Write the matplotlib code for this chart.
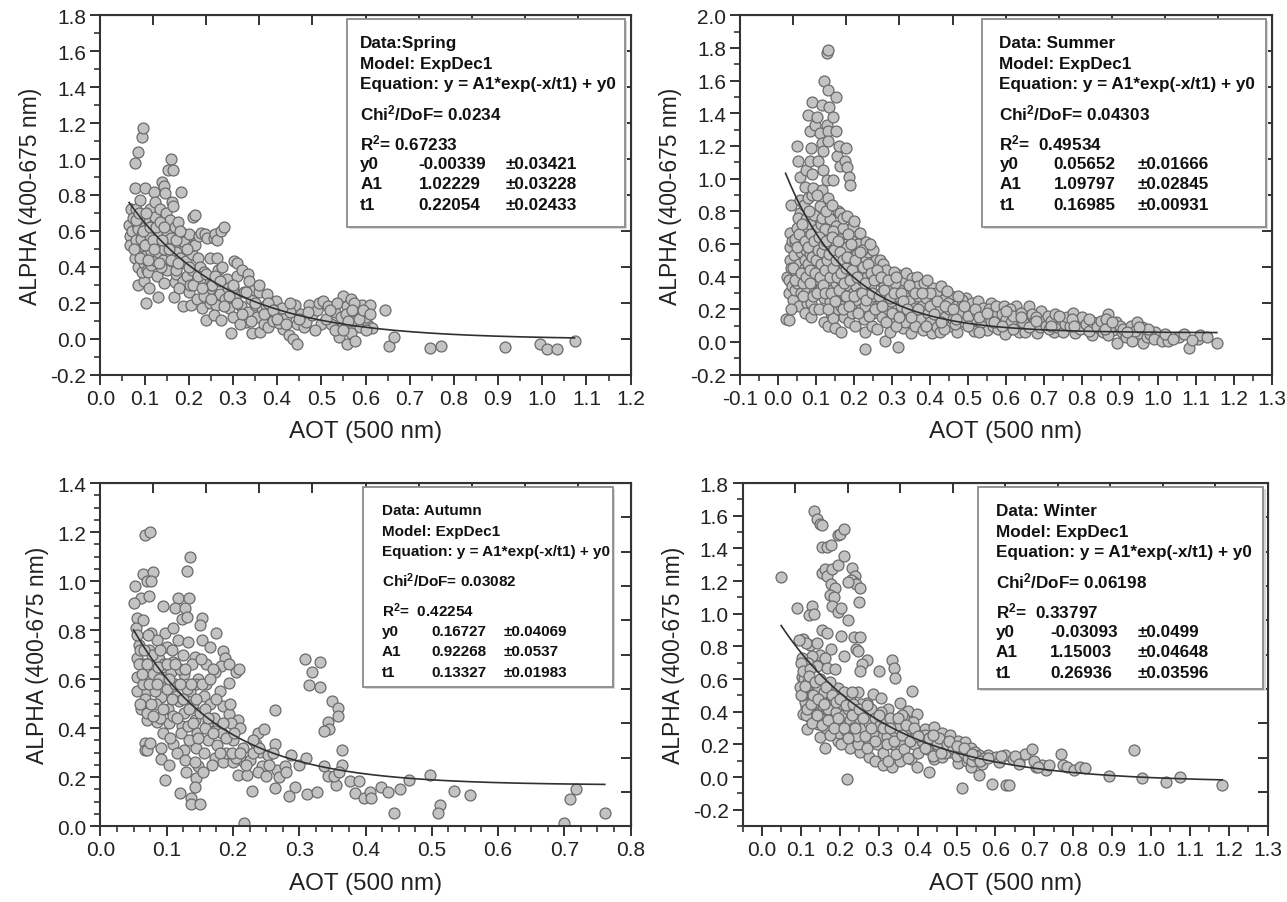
import numpy as np
import matplotlib
matplotlib.use('Agg')
import matplotlib.pyplot as plt
from matplotlib.patches import Rectangle

plt.rcParams['font.family'] = ['Liberation Sans', 'DejaVu Sans']
plt.rcParams['axes.unicode_minus'] = False
plt.rcParams['mathtext.default'] = 'regular'

# ---- data (AOT, ALPHA) ----
spring_pts = [
    (0.065,0.63),(0.068,0.57),(0.07,0.72),(0.072,0.60),(0.074,0.67),(0.066,0.52),
    (0.079,0.84),(0.079,0.98),(0.084,1.04),(0.08,0.72),(0.082,0.64),(0.083,0.52),(0.084,0.61),
    (0.078,0.45),(0.085,0.40),(0.08,0.55),(0.086,0.30),
    (0.094,1.12),(0.097,1.17),(0.09,0.77),(0.094,0.58),(0.094,0.48),(0.093,0.556),(0.098,0.51),
    (0.098,0.32),(0.095,0.37),(0.091,0.66),(0.099,0.42),(0.1,0.62),
    (0.102,0.84),(0.102,0.46),(0.104,0.2),(0.106,0.44),(0.106,0.38),(0.107,0.37),(0.108,0.53),
    (0.11,0.28),(0.11,0.65),(0.113,0.72),(0.112,0.57),(0.114,0.41),(0.115,0.49),
    (0.121,0.815),(0.121,0.64),(0.123,0.76),(0.125,0.43),(0.13,0.23),(0.13,0.48),(0.127,0.55),
    (0.128,0.35),(0.124,0.68),(0.13,0.6),
    (0.136,0.72),(0.136,0.54),(0.14,0.87),(0.143,0.85),(0.145,0.31),(0.147,0.81),(0.147,0.63),
    (0.15,0.46),(0.15,0.38),(0.151,0.58),(0.153,0.94),(0.142,0.44),(0.138,0.4),(0.148,0.7),(0.144,0.5),
    (0.159,1.0),(0.164,0.94),(0.161,0.76),(0.165,0.74),(0.166,0.51),(0.163,0.43),(0.168,0.315),
    (0.166,0.23),(0.158,0.66),(0.16,0.56),(0.17,0.36),(0.168,0.62),
    (0.172,0.48),(0.172,0.38),(0.176,0.65),(0.183,0.815),(0.185,0.59),(0.187,0.32),(0.187,0.18),
    (0.189,0.54),(0.178,0.28),(0.18,0.45),(0.19,0.42),
    (0.193,0.43),(0.195,0.35),(0.2,0.58),(0.206,0.19),(0.207,0.47),(0.209,0.68),(0.21,0.52),
    (0.208,0.38),(0.2,0.26),(0.203,0.3),
    (0.214,0.69),(0.215,0.52),(0.223,0.57),(0.228,0.59),(0.22,0.45),(0.225,0.33),(0.218,0.22),
    (0.23,0.17),(0.226,0.4),
    (0.234,0.37),(0.237,0.58),(0.241,0.56),(0.249,0.45),(0.24,0.105),(0.245,0.27),(0.235,0.24),
    (0.25,0.3),(0.248,0.2),
    (0.253,0.30),(0.256,0.56),(0.26,0.58),(0.264,0.45),(0.265,0.55),(0.262,0.185),(0.267,0.38),
    (0.258,0.13),(0.27,0.25),(0.272,0.105),
    (0.272,0.60),(0.28,0.62),(0.286,0.33),(0.29,0.17),(0.275,0.4),(0.282,0.22),(0.288,0.28),
    (0.296,0.03),(0.299,0.28),(0.302,0.43),(0.309,0.42),(0.3,0.12),(0.305,0.22),(0.31,0.35),
    (0.318,0.18),(0.32,0.38),(0.33,0.095),(0.333,0.36),(0.337,0.32),(0.343,0.03),(0.325,0.26),
    (0.315,0.08),(0.335,0.15),(0.34,0.22),
    (0.347,0.27),(0.351,0.19),(0.36,0.26),(0.362,0.04),(0.355,0.12),(0.365,0.17),(0.37,0.08),(0.358,0.3),
    (0.375,0.185),(0.38,0.063),(0.398,0.21),(0.385,0.13),(0.39,0.1),(0.395,0.16),(0.378,0.25),
    (0.413,0.053),(0.427,0.02),(0.437,0.0),(0.446,-0.03),(0.44,0.185),(0.42,0.12),(0.43,0.15),
    (0.41,0.17),(0.445,0.08),(0.405,0.09),
    (0.46,0.063),(0.465,0.095),(0.473,0.19),(0.48,0.13),(0.49,0.16),(0.5,0.08),(0.495,0.2),
    (0.455,0.14),(0.485,0.05),
    (0.504,0.21),(0.521,0.084),(0.54,0.01),(0.549,0.074),(0.549,0.235),(0.53,0.15),(0.545,0.12),
    (0.515,0.18),(0.535,0.2),
    (0.559,-0.03),(0.558,0.18),(0.567,0.22),(0.568,0.03),(0.577,-0.01),(0.58,0.15),(0.587,0.063),
    (0.591,0.19),(0.606,0.074),(0.61,0.185),(0.615,0.057),(0.57,0.1),(0.59,0.13),(0.555,0.14),
    (0.6,0.12),(0.575,0.2),
    (0.643,0.16),(0.653,-0.04),(0.664,0.01),(0.745,-0.05),(0.77,-0.038),(0.915,-0.046),
    (0.995,-0.03),(1.01,-0.057),(1.033,-0.057),(1.073,-0.015),
    (0.075,0.5),(0.08,0.66),(0.088,0.7),(0.09,0.45),(0.096,0.6),(0.1,0.52),(0.104,0.7),
    (0.108,0.44),(0.112,0.62),(0.118,0.55),(0.122,0.5),(0.126,0.62),(0.132,0.42),(0.134,0.65),
    (0.14,0.55),(0.145,0.62),(0.155,0.5),(0.16,0.44),(0.17,0.55),(0.175,0.42),(0.18,0.6),
    (0.195,0.5),(0.2,0.4),(0.21,0.3),(0.22,0.35),(0.23,0.28),(0.24,0.36),(0.25,0.22),
    (0.26,0.35),(0.27,0.32),(0.28,0.18),(0.29,0.24),(0.3,0.3),(0.31,0.2),(0.32,0.14),
    (0.33,0.26),(0.34,0.1),(0.35,0.2),(0.37,0.14),(0.38,0.2),(0.39,0.16),(0.4,0.11),
    (0.42,0.08),(0.43,0.2),(0.45,0.11),(0.47,0.15),(0.51,0.11),(0.52,0.16),(0.53,0.05),
    (0.56,0.1),(0.57,0.16),(0.585,0.11),(0.595,0.16),(0.6,0.05),(0.55,0.05),(0.61,0.14),
]

summer_pts = [
    (0.02,0.14),(0.025,0.40),(0.028,0.38),(0.03,0.30),(0.032,0.67),(0.032,0.58),(0.032,0.50),
    (0.033,0.45),(0.035,0.84),(0.036,0.62),(0.028,0.133),(0.038,0.34),(0.04,0.26),
    (0.044,0.32),(0.044,0.61),(0.045,0.63),(0.049,1.2),(0.05,0.70),(0.054,1.11),(0.058,1.01),
    (0.058,0.87),(0.058,0.79),(0.042,0.53),(0.048,0.43),(0.05,0.36),(0.055,0.48),(0.06,0.55),
    (0.055,0.22),(0.06,0.3),(0.052,0.76),
    (0.067,0.60),(0.071,0.95),(0.075,1.05),(0.075,0.75),(0.077,0.32),(0.08,1.39),(0.065,0.68),
    (0.07,0.45),(0.072,0.5),(0.078,0.65),(0.08,0.4),(0.068,0.84),(0.074,0.56),(0.079,0.88),
    (0.076,0.24),(0.07,0.18),
    (0.084,1.29),(0.084,1.11),(0.084,0.54),(0.086,1.19),(0.088,0.24),(0.089,1.47),(0.089,1.03),
    (0.089,0.90),(0.093,0.94),(0.097,1.33),(0.099,0.37),(0.085,0.72),(0.09,0.62),(0.092,0.46),
    (0.095,0.78),(0.098,0.55),(0.082,0.8),(0.094,0.3),(0.1,0.68),(0.087,0.15),(0.096,0.2),
    (0.102,1.38),(0.102,0.69),(0.102,0.46),(0.106,1.11),(0.11,1.28),(0.11,0.83),(0.11,0.58),
    (0.115,1.45),(0.115,1.22),(0.115,0.93),(0.119,1.17),(0.119,1.05),(0.121,0.27),(0.105,0.38),
    (0.108,0.5),(0.112,0.72),(0.118,0.64),(0.12,0.42),(0.104,0.9),(0.113,0.33),(0.117,0.76),
    (0.12,0.12),(0.108,0.2),
    (0.122,1.60),(0.128,1.77),(0.128,1.33),(0.128,0.99),(0.128,0.50),(0.131,1.54),(0.132,1.79),
    (0.132,1.29),(0.132,1.23),(0.132,0.88),(0.135,1.44),(0.137,0.75),(0.137,0.63),(0.125,0.56),
    (0.13,0.4),(0.134,0.34),(0.138,0.47),(0.14,0.58),(0.126,0.8),(0.136,0.25),(0.124,0.69),
    (0.139,0.18),(0.133,0.1),
    (0.143,0.32),(0.144,0.145),(0.146,1.38),(0.146,0.99),(0.15,0.087),(0.153,1.50),(0.154,1.29),
    (0.154,0.71),(0.156,1.14),(0.145,0.52),(0.148,0.43),(0.15,0.62),(0.152,0.36),(0.155,0.26),
    (0.158,0.8),(0.16,0.5),(0.142,0.84),(0.157,0.2),(0.145,0.68),
    (0.161,1.20),(0.163,1.08),(0.163,0.79),(0.163,0.63),(0.163,0.48),(0.167,0.064),(0.176,1.11),
    (0.176,0.28),(0.179,1.19),(0.165,0.38),(0.168,0.55),(0.17,0.3),(0.172,0.7),(0.175,0.45),
    (0.166,0.22),(0.174,0.15),(0.178,0.6),(0.17,0.76),
    (0.181,0.77),(0.181,0.58),(0.182,1.07),(0.188,1.01),(0.189,0.96),(0.189,0.46),(0.198,0.71),
    (0.185,0.35),(0.19,0.25),(0.192,0.52),(0.195,0.62),(0.2,0.4),(0.186,0.12),(0.196,0.18),
    (0.184,0.66),(0.198,0.3),
    (0.207,0.54),(0.209,0.26),(0.216,0.67),(0.216,0.44),(0.205,0.34),(0.21,0.6),(0.212,0.48),
    (0.218,0.2),(0.22,0.38),(0.203,0.1),(0.215,0.3),(0.2,0.74),
    (0.228,0.064),(0.228,-0.046),(0.231,0.32),(0.233,0.61),(0.233,0.50),(0.225,0.44),(0.23,0.22),
    (0.235,0.4),(0.238,0.55),(0.24,0.28),(0.222,0.56),(0.226,0.14),
    (0.246,0.46),(0.251,0.56),(0.253,0.28),(0.245,0.35),(0.25,0.18),(0.255,0.42),(0.258,0.5),
    (0.26,0.22),(0.248,0.1),(0.242,0.6),
    (0.268,0.50),(0.277,0.48),(0.265,0.38),(0.27,0.3),(0.275,0.15),(0.28,0.4),(0.262,0.08),
    (0.272,0.24),(0.278,0.34),
    (0.283,0.007),(0.294,0.064),(0.297,0.39),(0.285,0.44),(0.29,0.2),(0.288,0.3),(0.295,0.14),
    (0.3,0.35),(0.298,0.25),
    (0.317,-0.028),(0.319,0.41),(0.328,0.087),(0.305,0.43),(0.31,0.28),(0.315,0.18),(0.32,0.33),
    (0.325,0.22),(0.33,0.38),(0.335,0.12),(0.34,0.3),(0.312,0.1),(0.338,0.42),(0.308,0.36),
    (0.35,0.053),(0.352,0.39),(0.345,0.25),(0.348,0.17),(0.355,0.32),(0.36,0.21),(0.365,0.4),
    (0.37,0.28),(0.375,0.14),(0.362,0.1),(0.368,0.34),(0.378,0.22),
    (0.383,0.076),(0.385,0.36),(0.406,0.053),(0.407,0.33),(0.39,0.27),(0.395,0.18),(0.4,0.12),
    (0.41,0.24),(0.415,0.3),(0.418,0.09),(0.392,0.38),(0.4,0.3),
    (0.428,0.064),(0.429,0.34),(0.456,0.28),(0.456,0.1),(0.425,0.2),(0.435,0.26),(0.44,0.15),
    (0.445,0.31),(0.45,0.2),(0.438,0.08),(0.448,0.24),(0.46,0.14),
    (0.472,0.064),(0.495,0.27),(0.506,0.1),(0.517,0.133),(0.47,0.22),(0.48,0.18),(0.485,0.26),
    (0.49,0.12),(0.5,0.2),(0.51,0.24),(0.515,0.07),(0.475,0.28),(0.5,0.16),(0.465,0.11),
    (0.528,0.25),(0.55,0.076),(0.561,0.24),(0.525,0.18),(0.535,0.12),(0.54,0.21),(0.545,0.16),
    (0.555,0.2),(0.565,0.1),(0.57,0.17),(0.575,0.22),(0.53,0.06),(0.56,0.13),(0.58,0.08),
    (0.583,0.122),(0.594,0.22),(0.606,0.076),(0.627,0.22),(0.628,0.11),(0.59,0.17),(0.6,0.14),
    (0.61,0.2),(0.615,0.12),(0.62,0.16),(0.635,0.06),(0.64,0.18),(0.598,0.05),
    (0.65,0.064),(0.66,0.22),(0.683,0.053),(0.693,0.19),(0.655,0.14),(0.665,0.1),(0.67,0.17),
    (0.675,0.12),(0.68,0.15),(0.69,0.09),(0.7,0.13),(0.645,0.12),
    (0.706,0.1),(0.728,0.064),(0.739,0.122),(0.71,0.16),(0.715,0.08),(0.72,0.13),(0.73,0.17),
    (0.735,0.09),(0.745,0.14),(0.75,0.06),(0.755,0.11),(0.76,0.15),
    (0.776,0.18),(0.783,0.053),(0.806,0.087),(0.828,0.041),(0.77,0.1),(0.79,0.13),(0.795,0.08),
    (0.8,0.15),(0.81,0.11),(0.82,0.07),(0.83,0.12),(0.84,0.09),(0.775,0.14),
    (0.861,0.11),(0.87,0.17),(0.883,0.076),(0.894,-0.005),(0.906,0.064),(0.917,0.03),(0.85,0.13),
    (0.855,0.06),(0.865,0.14),(0.875,0.09),(0.89,0.12),(0.9,0.1),(0.91,0.08),(0.87,0.04),
    (0.933,0.007),(0.95,0.053),(0.961,-0.005),(0.972,0.03),(0.994,0.064),(0.93,0.1),(0.94,0.07),
    (0.96,0.09),(0.98,0.05),(0.99,0.02),(0.945,0.12),(0.975,0.08),
    (1.011,0.007),(1.028,0.007),(1.056,0.03),(1.083,-0.039),(1.106,0.018),(1.111,0.041),
    (1.156,-0.005),(1.02,0.05),(1.04,0.02),(1.07,0.05),(1.09,0.01),(1.13,0.03),
    (0.035,0.2),(0.04,0.45),(0.045,0.38),(0.05,0.58),(0.055,0.66),(0.06,0.42),(0.062,0.72),
    (0.065,0.28),(0.066,0.36),(0.07,0.62),(0.073,0.4),(0.078,0.48),(0.08,0.58),(0.083,0.36),
    (0.085,0.44),(0.088,0.66),(0.09,0.52),(0.092,0.28),(0.095,0.62),(0.098,0.42),(0.1,0.5),
    (0.103,0.3),(0.105,0.56),(0.107,0.64),(0.11,0.4),(0.113,0.48),(0.116,0.55),(0.118,0.35),
    (0.12,0.6),(0.123,0.3),(0.125,0.44),(0.127,0.62),(0.13,0.5),(0.133,0.2),(0.135,0.54),
    (0.138,0.4),(0.14,0.3),(0.142,0.64),(0.145,0.45),(0.148,0.56),(0.15,0.25),(0.152,0.5),
    (0.155,0.4),(0.158,0.62),(0.16,0.32),(0.163,0.55),(0.166,0.42),(0.17,0.2),(0.172,0.5),
    (0.175,0.36),(0.178,0.28),(0.18,0.45),(0.183,0.52),(0.186,0.22),(0.19,0.38),(0.193,0.6),
    (0.196,0.44),(0.2,0.28),(0.204,0.5),(0.208,0.4),(0.212,0.18),(0.215,0.55),(0.22,0.3),
    (0.224,0.46),(0.228,0.36),(0.232,0.26),(0.236,0.48),(0.24,0.16),(0.244,0.42),(0.248,0.3),
    (0.252,0.38),(0.256,0.2),(0.26,0.44),(0.265,0.28),(0.27,0.4),(0.275,0.22),(0.28,0.32),
    (0.285,0.12),(0.29,0.38),(0.295,0.27),(0.3,0.18),(0.305,0.3),(0.31,0.4),(0.32,0.15),
    (0.325,0.3),(0.33,0.25),(0.34,0.2),(0.345,0.35),(0.35,0.15),(0.36,0.3),(0.37,0.2),
    (0.38,0.3),(0.39,0.1),(0.4,0.22),(0.41,0.17),(0.42,0.25),(0.43,0.12),(0.44,0.22),
    (0.46,0.2),(0.47,0.14),(0.49,0.22),(0.5,0.1),(0.52,0.2),(0.53,0.15),(0.55,0.18),
    (0.57,0.12),(0.59,0.1),(0.6,0.19),(0.62,0.08),(0.64,0.15),(0.66,0.09),(0.68,0.13),
    (0.72,0.1),(0.74,0.16),(0.78,0.1),(0.82,0.14),(0.86,0.08),(0.88,0.12),(0.92,0.06),(0.95,0.09),
]

autumn_pts = [
    (0.068,1.187),(0.075,1.2),(0.135,1.10),(0.13,1.04),
    (0.064,1.03),(0.08,1.035),(0.07,1.0),(0.076,1.0),(0.052,0.98),(0.061,0.93),(0.073,0.94),
    (0.05,0.91),(0.095,0.90),(0.117,0.93),(0.134,0.93),(0.113,0.89),(0.127,0.89),(0.123,0.845),
    (0.13,0.855),(0.153,0.85),(0.151,0.82),(0.174,0.79),
    (0.055,0.85),(0.064,0.84),(0.053,0.81),(0.076,0.79),(0.098,0.79),(0.11,0.81),(0.086,0.76),
    (0.117,0.76),(0.154,0.76),(0.058,0.74),(0.073,0.72),(0.101,0.73),(0.132,0.75),(0.166,0.73),
    (0.185,0.715),(0.188,0.685),(0.182,0.655),(0.194,0.66),(0.204,0.63),(0.209,0.64),(0.194,0.586),
    (0.055,0.685),(0.067,0.66),(0.089,0.68),(0.11,0.67),(0.142,0.69),(0.16,0.66),(0.173,0.63),
    (0.055,0.61),(0.073,0.60),(0.098,0.61),(0.126,0.62),(0.148,0.60),(0.055,0.55),(0.07,0.55),
    (0.092,0.525),(0.114,0.53),(0.135,0.55),(0.157,0.53),(0.185,0.49),(0.194,0.457),(0.207,0.434),
    (0.197,0.42),
    (0.061,0.48),(0.07,0.434),(0.086,0.426),(0.104,0.42),(0.123,0.41),(0.142,0.434),(0.163,0.426),
    (0.173,0.39),(0.067,0.34),(0.092,0.32),(0.11,0.335),(0.126,0.31),(0.145,0.32),(0.157,0.30),
    (0.173,0.28),(0.185,0.26),(0.092,0.274),(0.104,0.25),(0.129,0.22),(0.148,0.244),(0.098,0.19),
    (0.145,0.198),(0.142,0.16),(0.12,0.134),(0.137,0.114),(0.136,0.09),(0.151,0.09),(0.067,0.31),
    (0.2,0.26),(0.207,0.21),(0.216,0.26),(0.221,0.21),(0.228,0.145),(0.217,0.012),
    (0.238,0.38),(0.247,0.396),(0.235,0.335),(0.241,0.304),(0.253,0.29),(0.244,0.244),(0.238,0.22),
    (0.25,0.205),
    (0.263,0.475),(0.263,0.335),(0.266,0.228),(0.264,0.155),(0.278,0.244),(0.288,0.292),(0.294,0.16),
    (0.284,0.122),(0.3,0.25),(0.312,0.13),(0.31,0.28),(0.327,0.14),
    (0.308,0.68),(0.319,0.63),(0.331,0.67),(0.314,0.574),(0.331,0.568),
    (0.337,0.244),(0.343,0.205),(0.35,0.51),(0.358,0.484),(0.359,0.449),(0.343,0.426),(0.345,0.396),
    (0.337,0.388),(0.364,0.312),(0.364,0.25),(0.356,0.167),(0.353,0.205),(0.36,0.22),
    (0.376,0.183),(0.39,0.183),(0.384,0.134),(0.398,0.114),(0.407,0.14),(0.409,0.114),(0.424,0.16),
    (0.434,0.14),(0.443,0.053),(0.452,0.152),(0.465,0.19),(0.497,0.21),(0.513,0.088),(0.509,0.053),
    (0.534,0.145),(0.558,0.126),
    (0.7,0.012),(0.708,0.11),(0.718,0.15),(0.761,0.053),
    (0.06,0.72),(0.062,0.66),(0.065,0.58),(0.068,0.52),(0.07,0.46),(0.072,0.78),(0.078,0.7),
    (0.08,0.62),(0.082,0.55),(0.084,0.5),(0.088,0.6),(0.09,0.44),(0.094,0.38),(0.096,0.66),
    (0.1,0.56),(0.102,0.48),(0.105,0.36),(0.106,0.63),(0.108,0.72),(0.11,0.45),(0.112,0.58),
    (0.115,0.3),(0.118,0.51),(0.12,0.64),(0.122,0.38),(0.124,0.7),(0.126,0.46),(0.128,0.27),
    (0.13,0.56),(0.132,0.41),(0.134,0.35),(0.138,0.66),(0.14,0.5),(0.142,0.26),(0.144,0.58),
    (0.146,0.38),(0.15,0.46),(0.152,0.68),(0.155,0.22),(0.158,0.4),(0.16,0.58),(0.162,0.35),
    (0.165,0.5),(0.168,0.25),(0.17,0.64),(0.172,0.44),(0.176,0.33),(0.18,0.55),(0.183,0.38),
    (0.19,0.3),(0.195,0.5),(0.2,0.35),(0.205,0.28),(0.21,0.4),(0.215,0.32),(0.225,0.27),
    (0.23,0.3),(0.24,0.32),(0.255,0.25),(0.26,0.3),(0.27,0.2),(0.28,0.22),
    (0.055,0.78),(0.058,0.66),(0.06,0.5),(0.063,0.62),(0.066,0.72),(0.07,0.66),(0.074,0.58),
    (0.077,0.5),(0.08,0.45),(0.085,0.58),(0.087,0.65),(0.09,0.72),(0.095,0.48),(0.1,0.66),
    (0.103,0.6),(0.108,0.52),(0.112,0.66),(0.116,0.44),(0.12,0.58),(0.125,0.52),(0.128,0.64),
    (0.133,0.48),(0.136,0.58),(0.14,0.42),(0.145,0.52),(0.148,0.36),(0.153,0.58),(0.158,0.48),
    (0.162,0.44),(0.166,0.6),(0.17,0.38),(0.175,0.52),(0.18,0.3),(0.185,0.42),(0.19,0.36),
    (0.198,0.3),(0.202,0.38),(0.21,0.3),(0.22,0.25),(0.23,0.35),(0.07,0.31),(0.075,0.34),
]

winter_pts = [
    (0.049,1.225),
    (0.134,1.63),(0.14,1.58),(0.148,1.55),(0.153,1.54),(0.153,1.41),(0.167,1.41),(0.177,1.42),
    (0.194,1.48),(0.201,1.49),(0.211,1.52),
    (0.153,1.25),(0.161,1.275),(0.167,1.23),(0.179,1.275),(0.194,1.30),(0.211,1.355),(0.177,1.18),
    (0.188,1.16),(0.174,1.115),(0.185,1.10),(0.179,1.05),(0.194,1.01),(0.204,1.035),(0.22,0.96),
    (0.231,1.28),(0.239,1.23),(0.237,1.195),(0.228,1.207),(0.242,1.18),(0.253,1.16),(0.25,1.07),
    (0.22,1.195),
    (0.091,1.035),(0.129,1.045),(0.12,0.99),(0.134,1.0),(0.153,0.90),(0.167,0.88),(0.202,0.864),
    (0.237,0.86),(0.253,0.86),(0.242,0.784),(0.247,0.773),(0.211,0.74),
    (0.105,0.846),(0.124,0.807),(0.113,0.82),(0.14,0.82),(0.177,0.784),(0.15,0.75),(0.129,0.74),
    (0.161,0.727),
    (0.102,0.727),(0.118,0.70),(0.14,0.68),(0.167,0.67),(0.188,0.663),(0.269,0.715),(0.258,0.69),
    (0.253,0.647),(0.301,0.647),(0.333,0.715),(0.339,0.67),(0.341,0.608),(0.385,0.526),
    (0.102,0.613),(0.108,0.544),(0.118,0.498),(0.113,0.43),(0.124,0.366),(0.15,0.247),(0.161,0.373),
    (0.177,0.498),(0.194,0.544),(0.21,0.52),(0.226,0.475),(0.247,0.52),(0.269,0.453),(0.285,0.51),
    (0.306,0.487),(0.323,0.418),(0.355,0.453),(0.376,0.407),(0.398,0.384),(0.419,0.293),
    (0.441,0.304),(0.462,0.27),(0.484,0.258),(0.482,0.206),(0.505,0.224),(0.522,0.213),
    (0.538,0.178),(0.548,0.155),(0.559,0.137),(0.581,0.133),(0.602,0.121),(0.624,0.137),
    (0.645,0.11),(0.661,0.098),(0.677,0.144),(0.694,0.174),(0.704,0.064),(0.72,0.075),
    (0.731,0.041),(0.737,0.075),(0.769,0.139),(0.774,0.075),(0.785,0.064),(0.801,0.041),
    (0.817,0.064),(0.83,0.053),(0.892,0.007),(0.955,0.167),(0.976,-0.005),(1.038,-0.027),
    (1.075,0.0),(1.183,-0.046),
    (0.218,-0.009),(0.514,-0.069),(0.559,0.014),(0.591,-0.039),(0.626,-0.05),(0.634,-0.05),
    (0.161,0.178),(0.194,0.224),(0.226,0.178),(0.253,0.155),(0.274,0.121),(0.29,0.098),
    (0.312,0.075),(0.333,0.064),(0.355,0.098),(0.382,0.11),(0.398,0.064),(0.43,0.03),
    (0.441,0.11),(0.462,0.121),(0.505,0.087),(0.527,0.098),(0.538,0.064),
    (0.105,0.384),(0.116,0.293),(0.129,0.366),(0.145,0.327),(0.177,0.315),(0.199,0.27),
    (0.204,0.201),(0.231,0.247),(0.247,0.201),(0.274,0.213),(0.29,0.27),(0.306,0.247),
    (0.323,0.293),(0.344,0.327),(0.366,0.361),(0.387,0.338),(0.398,0.247),(0.419,0.224),
    (0.441,0.201),(0.462,0.178),(0.484,0.155),
    (0.108,0.6),(0.11,0.46),(0.115,0.55),(0.12,0.42),(0.125,0.5),(0.13,0.58),(0.135,0.4),
    (0.14,0.47),(0.145,0.55),(0.15,0.36),(0.155,0.44),(0.16,0.52),(0.165,0.3),(0.17,0.42),
    (0.175,0.58),(0.18,0.35),(0.185,0.47),(0.19,0.4),(0.2,0.33),(0.205,0.45),(0.21,0.38),
    (0.215,0.28),(0.22,0.42),(0.225,0.35),(0.23,0.52),(0.235,0.3),(0.24,0.4),(0.245,0.25),
    (0.25,0.36),(0.255,0.45),(0.26,0.3),(0.265,0.38),(0.27,0.18),(0.275,0.33),(0.28,0.42),
    (0.285,0.27),(0.29,0.36),(0.295,0.2),(0.3,0.31),(0.305,0.4),(0.31,0.15),(0.315,0.34),
    (0.32,0.25),(0.325,0.1),(0.33,0.36),(0.335,0.2),(0.34,0.28),(0.345,0.14),(0.35,0.3),
    (0.355,0.22),(0.36,0.38),(0.365,0.17),(0.37,0.26),(0.375,0.12),(0.38,0.3),(0.39,0.2),
    (0.395,0.27),(0.4,0.15),(0.41,0.22),(0.42,0.26),(0.425,0.17),(0.43,0.24),(0.44,0.13),
    (0.45,0.2),(0.455,0.24),(0.47,0.15),(0.475,0.2),(0.49,0.18),(0.5,0.13),(0.51,0.17),
    (0.52,0.15),(0.53,0.12),(0.54,0.1),(0.55,0.13),(0.565,0.08),(0.57,0.12),(0.61,0.09),
    (0.615,0.13),(0.65,0.13),(0.66,0.08),(0.7,0.1),(0.71,0.06),
    (0.095,0.84),(0.1,0.7),(0.098,0.55),(0.104,0.5),(0.106,0.65),(0.112,0.38),(0.118,0.58),
    (0.122,0.66),(0.128,0.33),(0.132,0.45),
    (0.1,0.5),(0.11,0.56),(0.115,0.42),(0.12,0.62),(0.125,0.45),(0.13,0.5),(0.135,0.58),
    (0.14,0.38),(0.145,0.48),(0.15,0.6),(0.155,0.32),(0.16,0.45),(0.165,0.55),(0.17,0.35),
    (0.175,0.26),(0.18,0.5),(0.185,0.3),(0.19,0.46),(0.195,0.36),(0.2,0.48),(0.21,0.3),
    (0.215,0.44),(0.22,0.24),(0.23,0.38),(0.235,0.45),(0.24,0.3),(0.25,0.42),(0.26,0.36),
    (0.265,0.25),(0.27,0.44),(0.28,0.3),(0.29,0.22),(0.3,0.38),(0.31,0.3),(0.32,0.2),
    (0.33,0.3),(0.34,0.22),(0.35,0.36),(0.36,0.26),(0.37,0.32),(0.38,0.22),(0.39,0.3),
    (0.4,0.25),(0.42,0.18),(0.44,0.26),(0.46,0.15),(0.48,0.22),(0.5,0.19),(0.52,0.18),
    (0.54,0.14),(0.56,0.1),(0.58,0.12),
]

# ExpDec1 fit results: (y0, A1, t1), errors, chi2/dof, r2
spring_fit = (-0.00339, 1.02229, 0.22054)
spring_err = (0.03421, 0.03228, 0.02433)
summer_fit = (0.05652, 1.09797, 0.16985)
summer_err = (0.01666, 0.02845, 0.00931)
autumn_fit = (0.16727, 0.92268, 0.13327)
autumn_err = (0.04069, 0.0537, 0.01983)
winter_fit = (-0.03093, 1.15003, 0.26936)
winter_err = (0.0499, 0.04648, 0.03596)
chi2 = [0.0234, 0.04303, 0.03082, 0.06198]
r2 = [0.67233, 0.49534, 0.42254, 0.33797]
titles = ['Data:Spring', 'Data: Summer', 'Data: Autumn', 'Data: Winter']

W, H, DPI = 12.87, 9.03, 100
fig = plt.figure(figsize=(W, H), dpi=DPI)

panels = [
    # rect, limits, ticks, minor divisions, box span, text columns, box font size
    dict(rect=[0.078, 0.584, 0.412, 0.398], xlim=(0, 1.2), ylim=(-0.2, 1.8),
         xt=np.arange(0, 1.21, 0.1), yt=np.arange(-0.2, 1.81, 0.2), xm=2, ym=2,
         box=(0.465, 0.99), cols=(0.49, 0.60, 0.765), fs=12.3, bh=208),
    dict(rect=[0.575, 0.584, 0.413, 0.398], xlim=(-0.1, 1.3), ylim=(-0.2, 2.0),
         xt=np.arange(-0.1, 1.31, 0.1), yt=np.arange(-0.2, 2.01, 0.2), xm=2, ym=2,
         box=(0.455, 0.99), cols=(0.488, 0.59, 0.748), fs=12.3, bh=208),
    dict(rect=[0.078, 0.084, 0.412, 0.380], xlim=(0, 0.8), ylim=(0, 1.4),
         xt=np.arange(0, 0.81, 0.1), yt=np.arange(0, 1.41, 0.2), xm=4, ym=4,
         box=(0.495, 0.967), cols=(0.531, 0.624, 0.761), fs=11, bh=200),
    dict(rect=[0.577, 0.084, 0.408, 0.380], xlim=(-0.05, 1.3), ylim=(-0.3, 1.8),
         xt=np.arange(0, 1.31, 0.1), yt=np.arange(-0.2, 1.81, 0.2), xm=2, ym=2,
         box=(0.449, 0.992), cols=(0.482, 0.586, 0.753), fs=12.3, bh=202),
]
all_pts = [spring_pts, summer_pts, autumn_pts, winter_pts]
fits = [spring_fit, summer_fit, autumn_fit, winter_fit]
errs = [spring_err, summer_err, autumn_err, winter_err]
r2_gap = ['', ' ', ' ', ' ']

# line offsets (px) below the top of the legend box
line_off = [23, 44, 64, 93, 123, 144, 164, 185]
box_top_px = 4

for i, p in enumerate(panels):
    ax = fig.add_axes(p['rect'])
    pts = np.array(all_pts[i])
    ax.scatter(pts[:, 0], pts[:, 1], s=62, facecolor='#c3c3c3', edgecolor='#6a6a6a',
               linewidth=0.9, zorder=2)
    y0, a1, t1 = fits[i]
    xs = np.linspace(pts[:, 0].min(), pts[:, 0].max(), 300)
    ax.plot(xs, a1 * np.exp(-xs / t1) + y0, color='#303030', lw=1.2, zorder=3)

    ax.set_xlim(*p['xlim'])
    ax.set_ylim(*p['ylim'])
    ax.set_xticks(np.round(p['xt'], 2))
    ax.set_yticks(np.round(p['yt'], 2))
    ax.xaxis.set_major_formatter(matplotlib.ticker.FormatStrFormatter('%.1f'))
    ax.yaxis.set_major_formatter(matplotlib.ticker.FormatStrFormatter('%.1f'))
    ax.xaxis.set_minor_locator(matplotlib.ticker.AutoMinorLocator(p['xm']))
    ax.yaxis.set_minor_locator(matplotlib.ticker.AutoMinorLocator(p['ym']))
    ax.tick_params(which='major', direction='out', length=7, width=1.3, labelsize=15,
                   colors='#222222', pad=3)
    ax.tick_params(which='minor', direction='out', length=4, width=1.1, colors='#222222')
    for sp in ax.spines.values():
        sp.set_linewidth(1.5)
        sp.set_color('#333333')
    ax.set_xlabel('AOT (500 nm)', fontsize=17.5, labelpad=9, color='#222222')
    ax.set_ylabel('ALPHA (400-675 nm)', fontsize=16.5, labelpad=6, color='#222222')

    # origin style inward ticks on top and right at tenths of the frame
    x0, x1 = p['xlim']
    b0, b1 = p['ylim']
    top = ax.secondary_xaxis('top', functions=(lambda v, a=x0, b=x1: (v - a) / (b - a),
                                                lambda f, a=x0, b=x1: a + f * (b - a)))
    top.set_xticks(np.arange(0.1, 0.95, 0.1))
    top.tick_params(direction='in', length=7, width=1.3, labeltop=False, colors='#222222')
    right = ax.secondary_yaxis('right', functions=(lambda v, a=b0, b=b1: (v - a) / (b - a),
                                                   lambda f, a=b0, b=b1: a + f * (b - a)))
    right.set_yticks(np.arange(0.1, 0.95, 0.1))
    right.tick_params(direction='in', length=7, width=1.3, labelright=False, colors='#222222')

    # fit report box
    h_px = p['rect'][3] * H * DPI
    bt = 1 - box_top_px / h_px
    bh = p['bh'] / h_px
    bx0, bx1 = p['box']
    ax.add_patch(Rectangle((bx0 + 0.004, bt - bh - 0.006), bx1 - bx0, bh, transform=ax.transAxes,
                           facecolor='#d8d8d8', edgecolor='none', zorder=4))
    ax.add_patch(Rectangle((bx0, bt - bh), bx1 - bx0, bh, transform=ax.transAxes,
                           facecolor='white', edgecolor='#8a8a8a', lw=1.3, zorder=5))
    c0, c1, c2 = p['cols']
    fs = p['fs']
    lines = [titles[i], 'Model: ExpDec1', 'Equation: y = A1*exp(-x/t1) + y0',
             'Chi$^2$/DoF= ' + str(chi2[i]), 'R$^2$=' + r2_gap[i] + ' ' + str(r2[i])]
    for k, txt in enumerate(lines):
        ax.text(c0, bt - line_off[k] / h_px, txt, transform=ax.transAxes, fontsize=fs,
                fontweight='bold', va='center', ha='left', color='#111111', zorder=6)
    for k, name in enumerate(['y0', 'A1', 't1']):
        yy = bt - line_off[5 + k] / h_px
        ax.text(c0, yy, name, transform=ax.transAxes, fontsize=fs, fontweight='bold',
                va='center', color='#111111', zorder=6)
        ax.text(c1, yy, str(fits[i][k]), transform=ax.transAxes, fontsize=fs,
                fontweight='bold', va='center', color='#111111', zorder=6)
        ax.text(c2, yy, '\u00b1' + str(errs[i][k]), transform=ax.transAxes, fontsize=fs,
                fontweight='bold', va='center', color='#111111', zorder=6)

fig.savefig('out.png', dpi=DPI)
